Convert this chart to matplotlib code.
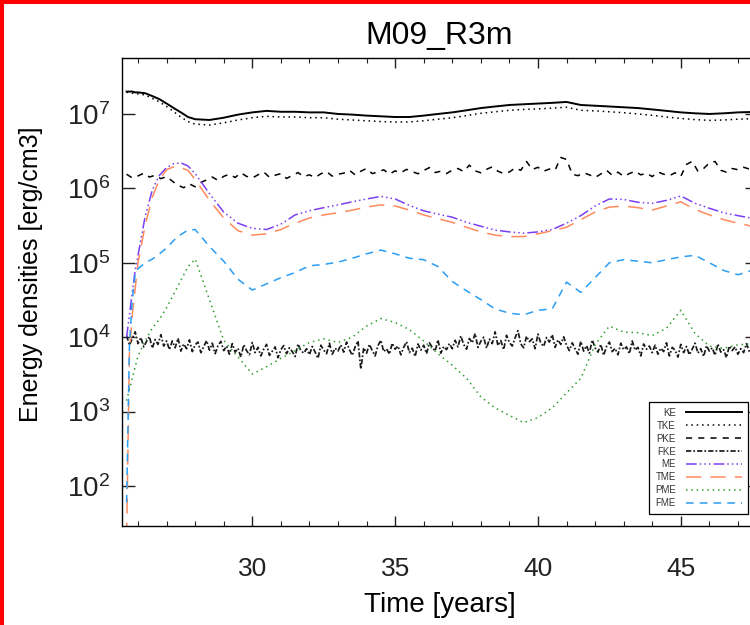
import numpy as np
import matplotlib
matplotlib.use("Agg")
import matplotlib.pyplot as plt
from matplotlib.patches import Rectangle
from matplotlib.ticker import MultipleLocator, FixedLocator, NullLocator

plt.rcParams["font.family"] = ["Liberation Sans", "DejaVu Sans"]

# time samples [years] for the smooth series
t = [25.6, 25.7, 25.8, 25.9, 26.0, 26.25, 26.5, 26.75, 27.0, 27.25, 27.5, 27.75,
     28.0, 28.5, 29.0, 29.5, 30.0, 30.5, 31.0, 31.5, 32.0, 32.5, 33.0, 33.5,
     34.0, 34.5, 35.0, 35.5, 36.0, 36.5, 37.0, 37.5, 38.0, 38.5, 39.0, 39.5,
     40.0, 40.5, 41.0, 41.5, 42.0, 42.5, 43.0, 43.5, 44.0, 44.5, 45.0, 45.5,
     46.0, 46.5, 47.0, 47.75]

ke = [2.0e7, 2.0e7, 2.0e7, 1.95e7, 1.95e7, 1.9e7, 1.74e7, 1.58e7, 1.38e7, 1.2e7, 1.05e7, 9.1e6,
      8.5e6, 8.3e6, 8.9e6, 9.8e6, 1.05e7, 1.1e7, 1.07e7, 1.07e7, 1.05e7, 1.05e7, 1.0e7, 9.8e6,
      9.5e6, 9.3e6, 9.1e6, 9.1e6, 9.5e6, 1.0e7, 1.05e7, 1.12e7, 1.2e7, 1.26e7, 1.32e7, 1.35e7,
      1.38e7, 1.41e7, 1.45e7, 1.32e7, 1.29e7, 1.26e7, 1.23e7, 1.2e7, 1.15e7, 1.1e7, 1.05e7, 1.02e7,
      1.0e7, 1.02e7, 1.05e7, 1.07e7]

tke = [1.95e7, 1.95e7, 1.9e7, 1.9e7, 1.86e7, 1.8e7, 1.62e7, 1.45e7, 1.26e7, 1.07e7, 9.1e6, 7.9e6,
       7.3e6, 7.1e6, 7.6e6, 8.3e6, 8.9e6, 9.3e6, 9.1e6, 9.1e6, 8.9e6, 8.9e6, 8.5e6, 8.3e6,
       8.1e6, 7.9e6, 7.8e6, 7.8e6, 8.1e6, 8.5e6, 8.9e6, 9.5e6, 1.02e7, 1.07e7, 1.12e7, 1.15e7,
       1.17e7, 1.2e7, 1.23e7, 1.12e7, 1.1e7, 1.07e7, 1.04e7, 1.0e7, 9.6e6, 9.1e6, 8.7e6, 8.4e6,
       8.2e6, 8.3e6, 8.5e6, 8.7e6]

me = [1.0e4, 2.0e4, 4.0e4, 7.9e4, 1.26e5, 4.2e5, 9.5e5, 1.5e6, 1.9e6, 2.15e6, 2.2e6, 2.0e6,
      1.58e6, 8.5e5, 4.8e5, 3.4e5, 2.9e5, 2.8e5, 3.3e5, 4.4e5, 5.0e5, 5.5e5, 6.0e5, 6.6e5,
      7.2e5, 7.8e5, 7.2e5, 5.9e5, 5.0e5, 4.5e5, 4.1e5, 3.5e5, 3.1e5, 2.75e5, 2.6e5, 2.5e5,
      2.6e5, 2.8e5, 3.4e5, 4.3e5, 5.8e5, 7.2e5, 7.1e5, 6.5e5, 6.3e5, 6.9e5, 7.9e5, 6.3e5,
      5.4e5, 4.7e5, 4.3e5, 3.8e5]

tme = [20, 6.3e3, 2.0e4, 4.5e4, 1.0e5, 3.2e5, 7.6e5, 1.32e6, 1.78e6, 1.95e6, 1.9e6, 1.74e6,
       1.32e6, 6.9e5, 4.0e5, 2.7e5, 2.35e5, 2.45e5, 2.8e5, 3.4e5, 4.0e5, 4.4e5, 4.7e5, 5.1e5,
       5.6e5, 6.0e5, 5.8e5, 5.1e5, 4.4e5, 3.9e5, 3.5e5, 3.0e5, 2.6e5, 2.35e5, 2.25e5, 2.25e5,
       2.45e5, 2.7e5, 3.0e5, 3.8e5, 4.8e5, 5.6e5, 5.8e5, 5.5e5, 5.1e5, 5.8e5, 6.6e5, 5.2e5,
       4.4e5, 3.8e5, 3.4e5, 2.95e5]

pme = [1.4e3, 2.0e3, 2.8e3, 4.0e3, 5.6e3, 8.9e3, 1.32e4, 1.74e4, 2.5e4, 3.8e4, 5.8e4, 8.9e4,
       1.12e5, 3.2e4, 9.1e3, 5.4e3, 3.2e3, 4.0e3, 5.2e3, 6.6e3, 8.5e3, 9.5e3, 8.5e3, 1.0e4,
       1.41e4, 1.78e4, 1.58e4, 1.26e4, 8.9e3, 6.0e3, 4.2e3, 2.8e3, 1.58e3, 1.12e3, 890, 710,
       830, 1.12e3, 1.78e3, 2.8e3, 7.9e3, 1.41e4, 1.17e4, 1.15e4, 1.05e4, 1.32e4, 2.3e4, 1.12e4,
       7.6e3, 7.1e3, 7.9e3, 8.3e3]

fme = [60, 7.9e3, 3.2e4, 7.1e4, 8.3e4, 1.0e5, 1.12e5, 1.32e5, 1.58e5, 2.0e5, 2.4e5, 2.75e5,
       2.8e5, 1.66e5, 1.05e5, 6.0e4, 4.3e4, 5.2e4, 6.3e4, 7.4e4, 9.1e4, 9.5e4, 1.02e5, 1.15e5,
       1.32e5, 1.48e5, 1.32e5, 1.15e5, 1.1e5, 8.9e4, 5.6e4, 4.2e4, 3.2e4, 2.4e4, 2.1e4, 2.0e4,
       2.3e4, 2.4e4, 5.5e4, 4.0e4, 6.3e4, 1.0e5, 1.1e5, 1.05e5, 1.0e5, 1.1e5, 1.2e5, 1.26e5,
       1.0e5, 7.9e4, 6.9e4, 8.5e4]

# noisy series, sampled every 0.2 yr (PKE) and 0.1 yr (FKE) from 25.6 to 47.6
pke = [1.55e6, 1.38e6, 1.47e6, 1.60e6, 1.42e6, 1.50e6, 1.35e6, 1.44e6,
       1.25e6, 1.10e6, 1.02e6, 1.15e6, 1.05e6, 1.20e6,
       1.30e6, 1.42e6, 1.28e6, 1.45e6,
       1.55e6, 1.40e6, 1.62e6, 1.45e6, 1.38e6, 1.52e6, 1.66e6, 1.41e6, 1.50e6, 1.58e6,
       1.36e6, 1.49e6, 1.63e6, 1.44e6, 1.52e6, 1.40e6, 1.57e6, 1.68e6, 1.46e6, 1.55e6,
       1.60e6, 1.75e6, 1.52e6, 1.70e6, 1.85e6, 1.58e6, 1.66e6, 1.78e6, 1.55e6, 1.72e6,
       1.62e6, 1.80e6, 1.68e6, 1.57e6, 1.74e6, 1.90e6, 1.63e6, 1.70e6, 1.58e6, 1.76e6,
       1.85e6, 1.68e6, 2.05e6, 1.72e6, 1.62e6, 1.80e6, 1.95e6, 1.70e6, 1.58e6, 1.66e6,
       1.88e6, 1.75e6, 2.3e6, 1.79e6, 1.92e6, 1.70e6, 1.82e6, 1.76e6,
       2.6e6, 2.45e6, 1.55e6,
       1.48e6, 1.62e6, 1.52e6, 1.40e6, 1.56e6, 1.75e6, 1.50e6, 1.65e6, 1.45e6, 1.58e6,
       1.70e6, 1.52e6, 1.60e6, 1.44e6, 1.66e6, 1.55e6, 1.48e6, 1.62e6,
       1.45e6, 2.1e6, 2.3e6, 1.7e6, 1.85e6, 2.2e6, 2.3e6, 1.75e6, 1.65e6, 1.85e6,
       1.78e6, 1.92e6, 1.82e6, 1.88e6]

fke = [10500, 7800, 9600, 11800, 8200, 9900, 7400, 8800, 10200, 7100, 9300, 8000, 10800, 7600, 8900,
       6800, 8900, 7200, 9700, 6500, 8100, 7000, 9200, 6400, 7900, 8600, 6200, 7500, 9000, 6700,
       8300, 6000, 7700, 8800, 6600,
       7600, 5900, 8200, 6300, 7100, 5400, 7900, 6600, 5800, 8500, 6200, 7300, 5600, 6900, 8000,
       5700, 6500, 7400, 5300, 6800, 7700, 6000, 7200, 6400, 5500, 8100, 6600, 6100, 7000, 5800,
       7500, 6300, 5200, 7800, 6700, 6000, 8300, 5900, 7100, 6500,
       7900, 6300, 8600, 6800, 5700, 7400, 8900, 3700, 7200, 6100, 8000, 6600, 5600, 7700, 9100,
       6400, 7000, 5900, 8300, 6900, 7600, 5800, 7300, 8700, 6200, 7100, 5500, 8100, 6700, 7800,
       6000, 8400, 7300, 6500, 9200, 6100, 7500, 6800, 8200, 7000,
       9100, 7400, 10400, 8000, 6900, 9600, 8400, 11200, 7300, 8800, 10000, 7100, 9400, 8200, 11800,
       7700, 9000, 6800, 10600, 8500, 7600, 9800, 12200, 8100, 7200, 10300, 8700, 9500, 7000, 11000,
       8300, 7500, 9900, 8600, 10800, 7300, 9200, 8000, 10100, 7800,
       6600, 8400, 7000, 5900, 8800, 6500, 7700, 6100, 9200, 7200, 6300, 8000, 5700, 7500, 8600,
       6400, 7100, 5800, 8300, 6800, 7400, 6000, 8900, 6700, 7300, 5600, 8100, 6900, 7600, 6200,
       7800, 5900, 7100, 6400, 8400, 5600, 7300, 6700, 5400, 8000, 6200, 7500, 5800, 6900, 8300,
       6100, 7000, 5500, 7700, 6500, 7200, 5700, 8100, 6300, 6800, 5300, 7600, 6600, 7400, 5900,
       7000, 6200, 8200, 6400, 5800, 7100]

x_ticks = [30, 35, 40, 45]
y_ticks = [1e2, 1e3, 1e4, 1e5, 1e6, 1e7]

t_pke = np.linspace(25.6, 47.6, len(pke))
t_fke = np.linspace(25.6, 47.6, len(fke))

fig = plt.figure(figsize=(7.5, 6.25), dpi=100)
ax = fig.add_axes([0.1627, 0.1584, 0.8467, 0.7488])

ax.plot(t, ke, color="black", ls="-", lw=1.4, label="KE")
ax.plot(t, tke, color="black", ls=(0, (1, 2.5)), lw=1.1, label="TKE")
ax.plot(t_pke, pke, color="black", ls=(0, (4, 4)), lw=1.1, label="PKE")
ax.plot(t_fke, fke, color="#1a1a1a", ls=(0, (3, 1.2, 1, 1.2)), lw=1.25, label="FKE")
ax.plot(t, me, color="#7b3ff2", ls=(0, (7, 2, 1, 2, 1, 2, 1, 2)), lw=1.1, label="ME")
ax.plot(t, tme, color="#ff8a5c", ls=(0, (10, 6)), lw=1.1, label="TME")
ax.plot(t, pme, color="#2f9e2f", ls=(0, (1, 2.5)), lw=1.1, label="PME")
ax.plot(t, fme, color="#2a9df4", ls=(0, (5, 4)), lw=1.1, label="FME")

ax.set_yscale("log")
ax.set_xlim(25.44, 47.67)
ax.set_ylim(29, 5.65e7)

ax.xaxis.set_major_locator(FixedLocator(x_ticks))
ax.xaxis.set_minor_locator(MultipleLocator(1))
ax.yaxis.set_major_locator(FixedLocator(y_ticks))
ax.yaxis.set_minor_locator(NullLocator())

ax.tick_params(which="both", direction="in", top=True, right=True, colors="#222222")
ax.tick_params(axis="x", which="major", length=7.5, width=1, pad=22, labelsize=19)
ax.tick_params(axis="x", which="minor", length=3.6, width=0.8)
ax.tick_params(axis="y", which="major", length=9, width=1, pad=8.5, labelsize=20)
for s in ax.spines.values():
    s.set_linewidth(1)

ax.set_title("M09_R3m", fontsize=23, pad=10)
ax.set_xlabel("Time [years]", fontsize=20, labelpad=8)
ax.set_ylabel("Energy densities [erg/cm3]", fontsize=18)
ax.yaxis.set_label_coords(-0.124, 0.537)

leg = ax.legend(loc="lower right", bbox_to_anchor=(0.9858, 0.0256), borderaxespad=0,
                markerfirst=False, fontsize=7, handlelength=5.8, handletextpad=1.0,
                labelspacing=0.3, borderpad=0.6, fancybox=False, framealpha=1,
                edgecolor="black")
leg.get_frame().set_linewidth(0.9)
for txt in leg.get_texts():
    txt.set_color("#333333")

# red frame around the picture (only left and top edges are visible)
fig.patches.append(Rectangle((0.0027, -0.1), 1.2, 1.0976, transform=fig.transFigure,
                             fill=False, edgecolor="red", lw=2.9))

fig.savefig("out.png", dpi=100)
